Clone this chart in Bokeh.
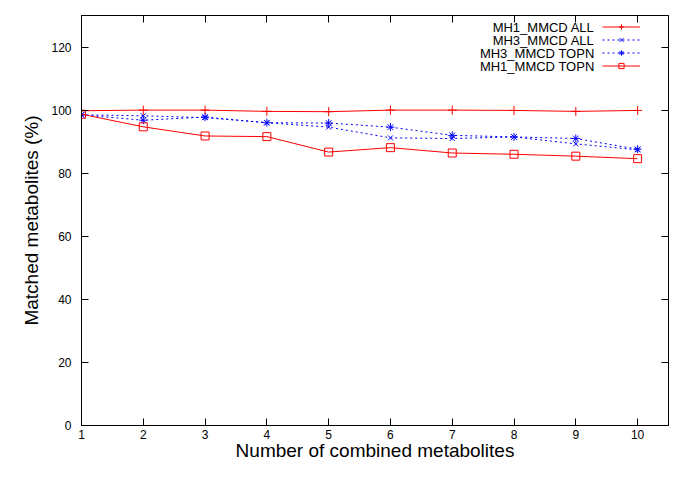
from bokeh.plotting import figure
from bokeh.models import Range1d, FixedTicker, LinearAxis, Legend, LegendItem, Label
from bokeh.embed import file_html
from bokeh.resources import INLINE

# ---- data ----
x_vals = [1, 2, 3, 4, 5, 6, 7, 8, 9, 10]
mh1_all = [99.8, 100.0, 100.0, 99.6, 99.5, 100.0, 100.0, 99.9, 99.6, 99.9]
mh3_all = [98.5, 98.2, 97.6, 96.0, 94.6, 91.2, 91.0, 91.5, 89.3, 87.4]
mh3_topn = [98.5, 96.8, 97.8, 96.0, 95.9, 94.6, 92.0, 91.5, 91.0, 87.6]
mh1_topn = [98.7, 94.7, 91.8, 91.6, 86.7, 88.1, 86.4, 86.0, 85.4, 84.6]
series_names = ["MH1_MMCD ALL", "MH3_MMCD ALL", "MH3_MMCD TOPN", "MH1_MMCD TOPN"]
x_ticks = [1, 2, 3, 4, 5, 6, 7, 8, 9, 10]
y_ticks = [0, 20, 40, 60, 80, 100, 120]
x_label = "Number of combined metabolites"
y_label = "Matched metabolites (%)"

FONT = "Liberation Sans"
FIG_W, FIG_H = 669, 463
BORDER_L, BORDER_R, BORDER_T, BORDER_B = 81, 1, 15, 37
FRAME_W = FIG_W - BORDER_L - BORDER_R
FRAME_H = FIG_H - BORDER_T - BORDER_B

p = figure(width=FIG_W, height=FIG_H, output_backend="svg", toolbar_location=None,
           x_range=Range1d(1, 10.5), y_range=Range1d(0, 130),
           min_border_left=BORDER_L, min_border_right=BORDER_R,
           min_border_top=BORDER_T, min_border_bottom=BORDER_B,
           background_fill_color="white", border_fill_color="white")
p.xgrid.grid_line_color = None
p.ygrid.grid_line_color = None
p.outline_line_color = "black"
p.outline_line_alpha = 1
p.outline_line_width = 1


def style_axis(ax, ticks, show_labels=True):
    ax.ticker = FixedTicker(ticks=ticks)
    ax.major_tick_in = 7
    ax.major_tick_out = 0
    ax.minor_tick_line_color = None
    ax.axis_line_color = "black"
    ax.major_tick_line_color = "black"
    ax.major_label_text_font = FONT
    if show_labels:
        ax.major_label_text_font_size = "12px"
        ax.major_label_text_color = "black"
    else:
        ax.major_label_overrides = {t: "" for t in ticks}
        ax.major_label_text_color = None
        ax.major_label_text_font_size = "1px"
        ax.major_label_standoff = 0


xa = p.xaxis[0]
style_axis(xa, x_ticks)
xa.major_label_standoff = 4
xa.axis_label = x_label
xa.axis_label_standoff = -2
ya = p.yaxis[0]
style_axis(ya, y_ticks)
ya.major_label_standoff = 10
ya.axis_label = y_label
ya.axis_label_standoff = 6
for ax in (xa, ya):
    ax.axis_label_text_font = FONT
    ax.axis_label_text_font_size = "19px"
    ax.axis_label_text_font_style = "normal"
    ax.axis_label_text_color = "black"

top_ax = LinearAxis()
style_axis(top_ax, x_ticks, show_labels=False)
p.add_layout(top_ax, "above")
right_ax = LinearAxis()
style_axis(right_ax, y_ticks, show_labels=False)
p.add_layout(right_ax, "right")

# ---- series ----
r1l = p.line(x_vals, mh1_all, line_color="red", line_width=1)
r1m = p.scatter(x_vals, mh1_all, marker="cross", size=9, line_color="red", line_width=1)
r2l = p.line(x_vals, mh3_all, line_color="blue", line_width=1, line_dash="2 3")
r2m = p.scatter(x_vals, mh3_all, marker="x", size=7, line_color="blue", line_width=1)
r3l = p.line(x_vals, mh3_topn, line_color="blue", line_width=1, line_dash="2 3")
r3m = p.scatter(x_vals, mh3_topn, marker="asterisk", size=8, line_color="blue", line_width=1)
r4l = p.line(x_vals, mh1_topn, line_color="red", line_width=1)
r4m = p.scatter(x_vals, mh1_topn, marker="square", size=8, line_color="red",
                fill_color=None, line_width=1)

# ---- legend: gnuplot style (text right-aligned, sample on its right) ----
ROW_H = 13
GLYPH_W = 38
LEG_TOP = 6                      # gap under the frame top
GLYPH_LEFT = FRAME_W - 28 - GLYPH_W
legend = Legend(items=[LegendItem(label=" ", renderers=[r1l, r1m]),
                       LegendItem(label=" ", renderers=[r2l, r2m]),
                       LegendItem(label=" ", renderers=[r3l, r3m]),
                       LegendItem(label=" ", renderers=[r4l, r4m])],
                location=(GLYPH_LEFT, FRAME_H - LEG_TOP - 4 * ROW_H),
                orientation="vertical",
                glyph_width=GLYPH_W, glyph_height=ROW_H, label_height=ROW_H,
                label_width=0, label_standoff=0, spacing=0, padding=0, margin=0,
                border_line_alpha=0, background_fill_alpha=0,
                label_text_font_size="13px")
p.add_layout(legend)
for i, name in enumerate(series_names):
    p.add_layout(Label(x=GLYPH_LEFT - 8, y=FRAME_H - LEG_TOP - ROW_H * (i + 0.5),
                       x_units="screen", y_units="screen",
                       text=name, text_align="right", text_baseline="middle",
                       text_font=FONT, text_font_size="13px", text_color="black"))

open("out.html", "w").write(file_html(p, INLINE))
